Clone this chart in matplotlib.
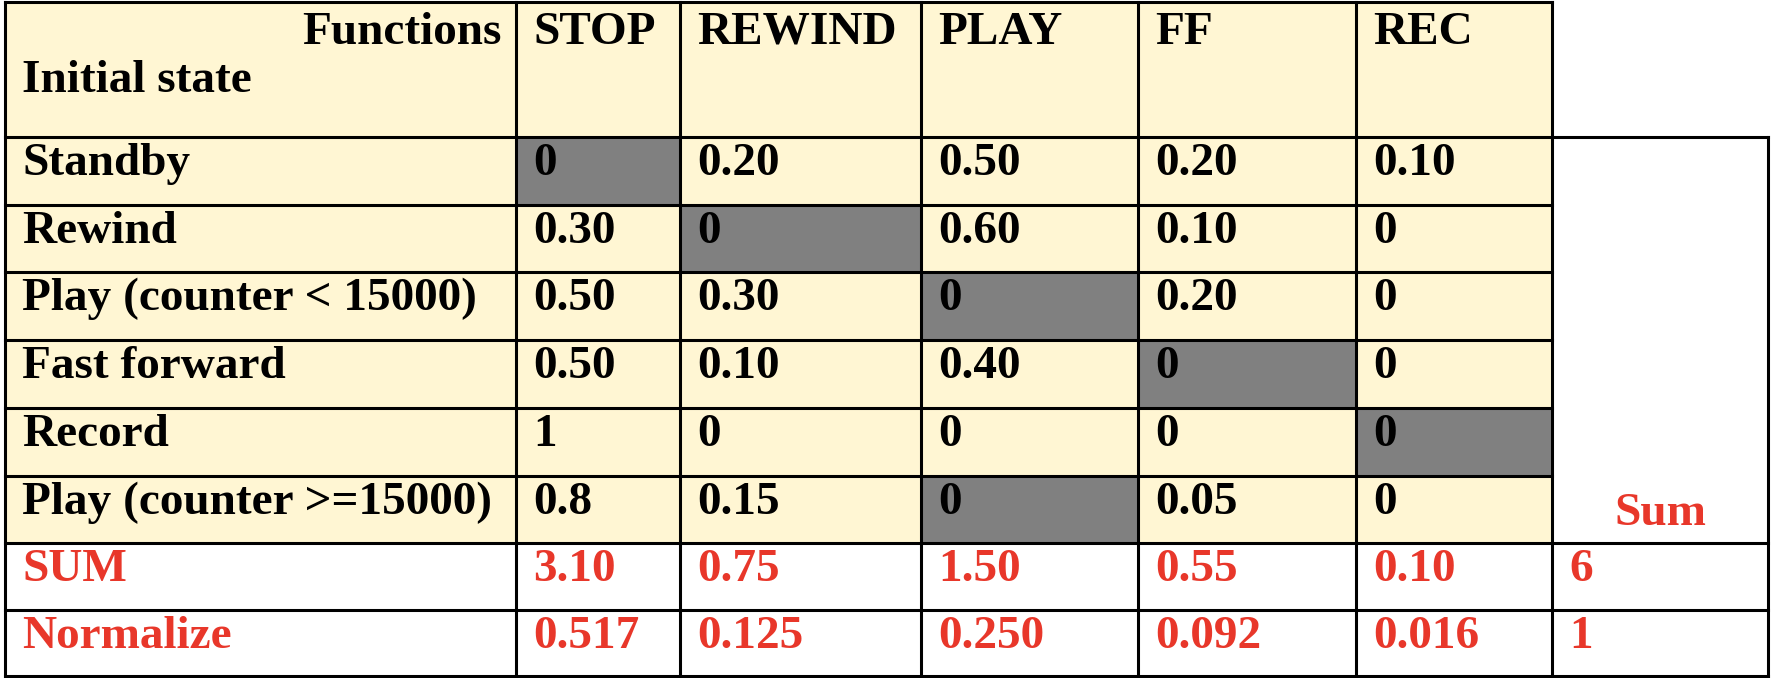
import matplotlib
matplotlib.use("Agg")
import matplotlib.pyplot as plt
from matplotlib.patches import Rectangle

functions = ["STOP", "REWIND", "PLAY", "FF", "REC"]
states = ["Standby", "Rewind", "Play (counter < 15000)", "Fast forward", "Record", "Play (counter >=15000)"]
values = [
    ["0", "0.20", "0.50", "0.20", "0.10"],
    ["0.30", "0", "0.60", "0.10", "0"],
    ["0.50", "0.30", "0", "0.20", "0"],
    ["0.50", "0.10", "0.40", "0", "0"],
    ["1", "0", "0", "0", "0"],
    ["0.8", "0.15", "0", "0.05", "0"],
]
grey_cells = [(0, 0), (1, 1), (2, 2), (3, 3), (4, 4), (5, 2)]
sum_row = ["3.10", "0.75", "1.50", "0.55", "0.10"]
norm_row = ["0.517", "0.125", "0.250", "0.092", "0.016"]
total_sum = "6"
total_norm = "1"

xs = [5, 516, 680, 921, 1138, 1356, 1552, 1768]
ys = [2, 137, 205, 272, 340, 408, 476, 543, 610, 676]

BEIGE = "#FFF6D3"
GREY = "#808080"
RED = "#E8372A"
FONT = dict(family="Liberation Serif", fontweight="bold", fontsize=34)

fig = plt.figure(figsize=(17.72, 6.78), dpi=100)
ax = fig.add_axes([0, 0, 1, 1])
ax.set_xlim(0, 1772)
ax.set_ylim(678, 0)
ax.axis("off")

def cell(c, r, color):
    ax.add_patch(Rectangle((xs[c], ys[r]), xs[c+1]-xs[c], ys[r+1]-ys[r],
                           facecolor=color, edgecolor="none", zorder=1))

for r in range(0, 7):
    for c in range(0, 6):
        cell(c, r, BEIGE)
for (r, c) in grey_cells:
    cell(c + 1, r + 1, GREY)

lw = 2.2
for i, y in enumerate(ys):
    x1 = xs[6] if i in (0, 2, 3, 4, 5, 6) else xs[7]
    ax.plot([xs[0], x1], [y, y], color="black", lw=lw, zorder=3, solid_capstyle="projecting")
for i, x in enumerate(xs):
    y0 = ys[1] if i == 7 else ys[0]
    ax.plot([x, x], [y0, ys[-1]], color="black", lw=lw, zorder=3, solid_capstyle="projecting")

pad = 17
ax.text(xs[1]-14, ys[0]+10, "Functions", ha="right", va="top", zorder=4, **FONT)
ax.text(xs[0]+pad, ys[0]+58, "Initial state", ha="left", va="top", zorder=4, **FONT)
for j, f in enumerate(functions):
    ax.text(xs[j+1]+pad, ys[0]+10, f, ha="left", va="top", zorder=4, **FONT)
for i, s in enumerate(states):
    ax.text(xs[0]+pad, ys[i+1]+6, s, ha="left", va="top", zorder=4, **FONT)
    for j, v in enumerate(values[i]):
        ax.text(xs[j+1]+pad, ys[i+1]+6, v, ha="left", va="top", zorder=4, **FONT)

ax.text((xs[6]+xs[7])/2, ys[7]-8, "Sum", ha="center", va="bottom", color=RED, zorder=4, **FONT)
for k, (label, row, tot) in enumerate([("SUM", sum_row, total_sum), ("Normalize", norm_row, total_norm)]):
    y = ys[7+k]+6
    ax.text(xs[0]+pad, y, label, ha="left", va="top", color=RED, zorder=4, **FONT)
    for j, v in enumerate(row):
        ax.text(xs[j+1]+pad, y, v, ha="left", va="top", color=RED, zorder=4, **FONT)
    ax.text(xs[6]+pad, y, tot, ha="left", va="top", color=RED, zorder=4, **FONT)

fig.savefig("out.png", dpi=100, facecolor="white")
